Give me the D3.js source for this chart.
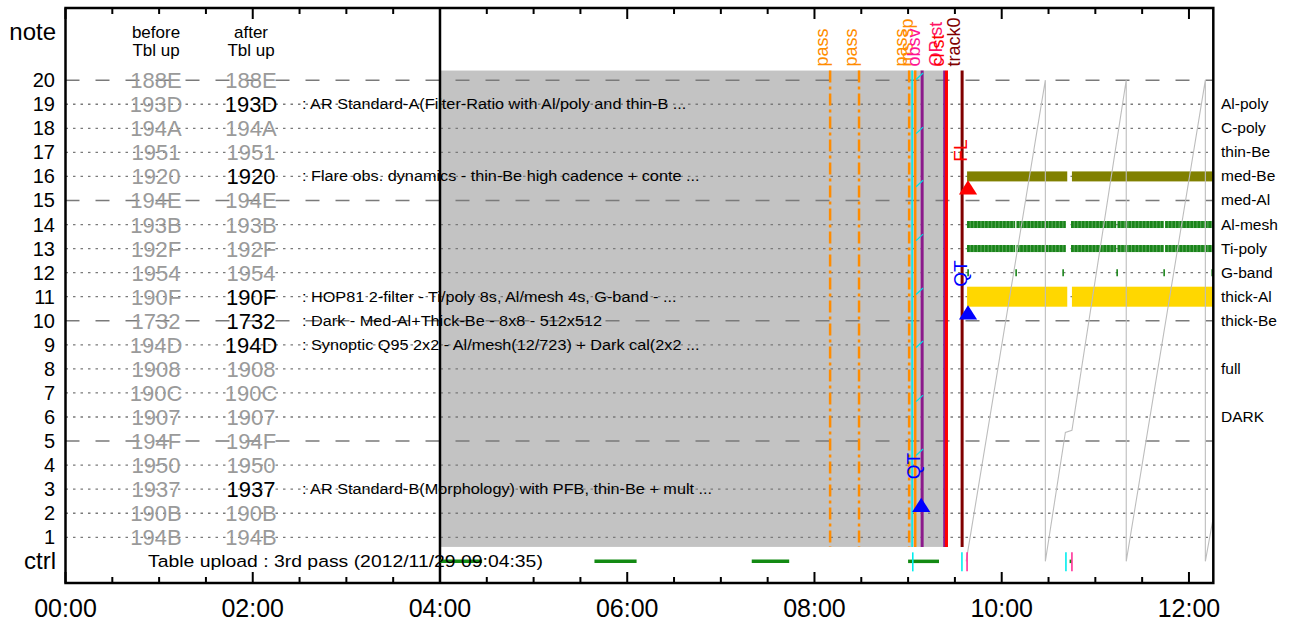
<!DOCTYPE html>
<html><head><meta charset="utf-8">
<script src="https://cdn.jsdelivr.net/npm/d3@7"></script>
<style>body{margin:0;background:#fff}svg{display:block}text{font-family:"Liberation Sans",Arial,Helvetica,sans-serif}</style>
</head><body><svg id="c" width="1296" height="625"></svg>
<script>
// ---------------- data ----------------
const hourTicks = [0,2,4,6,8,10,12];
const hourLabels = ["00:00","02:00","04:00","06:00","08:00","10:00","12:00"];
const minorTicks = [0,0.5,1,1.5,2,2.5,3,3.5,4,4.5,5,5.5,6,6.5,7,7.5,8,8.5,9,9.5,10,10.5,11,11.5,12];
const noteRows = [20,19,18,17,16,15,14,13,12,11,10,9,8,7,6,5,4,3,2,1];
const beforeCodes = ["188E","193D","194A","1951","1920","194E","193B","192F","1954","190F","1732","194D","1908","190C","1907","194F","1950","1937","190B","194B"];
const afterCodes  = ["188E","193D","194A","1951","1920","194E","193B","192F","1954","190F","1732","194D","1908","190C","1907","194F","1950","1937","190B","194B"];
const updatedRows = [19,16,11,10,9,3];
const descRows = [19,16,11,10,9,3];
const descTexts = [
  ": AR Standard-A(Filter-Ratio with Al/poly and thin-B ...",
  ": Flare obs. dynamics - thin-Be high cadence + conte ...",
  ": HOP81 2-filter - Ti/poly 8s, Al/mesh 4s, G-band -  ...",
  ": Dark - Med-Al+Thick-Be - 8x8 - 512x512",
  ": Synoptic Q95 2x2 - Al/mesh(12/723) + Dark cal(2x2  ...",
  ": AR Standard-B(Morphology) with PFB, thin-Be + mult ..."
];
const dashedRows = [20,15,10,5];
const filterRows  = [19,18,17,16,15,14,13,12,11,10,8,6];
const filterNames = ["Al-poly","C-poly","thin-Be","med-Be","med-Al","Al-mesh","Ti-poly","G-band","thick-Al","thick-Be","full","DARK"];

const tableStart = 4.0;            // black boundary (04:00)
const blockTimes = [4.0, 9.374];   // gray table block
const blockRows  = [0.6, 20.4];

const eventTimes  = [8.167, 8.476, 9.011, 9.043, 9.076, 9.150, 9.385, 9.410, 9.577];
const eventLabels = ["pass","pass","pass","","ms sp","obsv","OP st","cl st","track0"];
const eventKinds  = ["pass","pass","pass","sync","upload","obsv","opst","clst","track"];

const cyanMarkTops = [20.3, 18.05, 15.84, 13.6, 11.36, 9.16, 6.91, 4.67, 2.47];

// exposure blocks per filter row
const medBeSegs   = [[9.63,10.70],[10.75,12.30]];
const thickAlSegs = [[9.63,10.70],[10.75,12.30]];
const alMeshSegs  = [[9.63,10.143],[10.159,10.683],[10.741,11.222],[11.238,11.730],[11.746,12.30]];
const tiPolySegs  = [[9.63,10.143],[10.159,10.683],[10.741,11.222],[11.238,11.730],[11.746,12.30]];
const gBandTimes  = [9.641,10.154,10.656,11.233,11.735,12.248];

const markerTimes  = [9.64, 9.64, 9.14];
const markerRows   = [15.2, 10.0, 2.0];
const markerLabels = ["FL","QT","QT"];
const markerKinds  = ["flare","quiet","quiet"];

const sawTimes  = [9.62, 10.466, 10.466, 10.68, 10.75, 11.33, 11.33, 12.175, 12.175, 12.26];
const sawValues = [0,    20,     0,      5.36,  5.45,  20,    0,     20,     0,      1.83];

const ctrlGreen = [[4.0,4.45],[5.65,6.10],[7.33,7.73],[9.00,9.33],[10.725,10.748]];
const ctrlCyan  = [9.05, 9.575, 10.686];
const ctrlPink  = [9.63, 10.75];
const ctrlText  = "Table upload : 3rd pass (2012/11/29 09:04:35)";

// ---------------- styles ----------------
const eventStyle = {
  pass:   {stroke:"#ff8c00", w:2.5, dash:"12,4,3,4", text:"#ff8c00"},
  sync:   {stroke:"#00eeee", w:1.6, dash:null, text:"#00dddd"},
  upload: {stroke:"#ff8c00", w:2.5, dash:null, text:"#ff8c00"},
  obsv:   {stroke:"#8b1a8b", w:3, dash:null, text:"#ff1493"},
  opst:   {stroke:"#8b1a8b", w:2, dash:null, text:"#ff1464"},
  clst:   {stroke:"#ff0000", w:3, dash:null, text:"#ff0000"},
  track:  {stroke:"#800000", w:3, dash:null, text:"#800000"}
};
const markerColor = {flare:"#ff0000", quiet:"#0000ff"};

// ---------------- scales ----------------
const svg = d3.select("#c");
svg.append("rect").attr("width",1296).attr("height",625).attr("fill","#fff");
const x = d3.scaleLinear().domain([0,12.26]).range([65.5,1213.3]);
const y = d3.scaleLinear().domain([-0.9,23]).range([583,8]);
const X0 = x.range()[0], X1 = x.range()[1];

svg.append("defs").append("clipPath").attr("id","plot")
  .append("rect").attr("x",X0).attr("y",8).attr("width",X1-X0).attr("height",575);
const plot = svg.append("g").attr("clip-path","url(#plot)");

// gray block
plot.append("rect")
  .attr("x",x(blockTimes[0])).attr("width",x(blockTimes[1])-x(blockTimes[0]))
  .attr("y",y(blockRows[1])).attr("height",y(blockRows[0])-y(blockRows[1]))
  .attr("fill","#c3c3c3");

// grid rows
plot.selectAll(".grid").data(noteRows).enter().append("line")
  .attr("x1",X0).attr("x2",X1).attr("y1",d=>y(d)).attr("y2",d=>y(d))
  .attr("stroke","#7a7a7a")
  .attr("stroke-width",d=>dashedRows.includes(d)?1.6:1.3)
  .attr("stroke-dasharray",d=>dashedRows.includes(d)?"14,16":"2.5,5");

// headers
const hdr = svg.append("g").attr("font-size",17).attr("text-anchor","middle").attr("fill","#000");
[["before",156],["after",251]].forEach(([t,cx])=>{
  hdr.append("text").attr("x",cx).attr("y",38).text(t);
  hdr.append("text").attr("x",cx).attr("y",56).text("Tbl up");
});

// codes
const codes = svg.append("g").attr("font-size",22).attr("text-anchor","middle");
codes.selectAll(".b").data(noteRows).enter().append("text")
  .attr("x",156).attr("y",d=>y(d)+8).attr("fill","#9a9a9a")
  .text((d,i)=>beforeCodes[i]);
codes.selectAll(".a").data(noteRows).enter().append("text")
  .attr("x",251).attr("y",d=>y(d)+8)
  .attr("fill",d=>updatedRows.includes(d)?"#000":"#9a9a9a")
  .text((d,i)=>afterCodes[i]);

// descriptions (horizontally widened like the reference device font)
svg.append("g").attr("transform","translate(302,0) scale(1.16,1)")
  .attr("font-size",14).selectAll("text").data(descRows).enter().append("text")
  .attr("x",0).attr("y",d=>y(d)+5).attr("fill","#000").text((d,i)=>descTexts[i]);

// boundary line
svg.append("line").attr("x1",x(tableStart)).attr("x2",x(tableStart)).attr("y1",8).attr("y2",583)
  .attr("stroke","#000").attr("stroke-width",2.5);

// event lines
const ev = eventTimes.map((t,i)=>({t, label:eventLabels[i], kind:eventKinds[i]}));
plot.selectAll(".ev").data(ev).enter().append("line")
  .attr("x1",d=>x(d.t)).attr("x2",d=>x(d.t))
  .attr("y1",y(blockRows[1])).attr("y2",y(blockRows[0]))
  .attr("stroke",d=>eventStyle[d.kind].stroke)
  .attr("stroke-width",d=>eventStyle[d.kind].w)
  .attr("stroke-dasharray",d=>eventStyle[d.kind].dash);

// cyan small marks
plot.selectAll(".cm").data(cyanMarkTops).enter().append("line")
  .attr("x1",x(9.085)).attr("x2",x(9.16))
  .attr("y1",d=>y(d-0.27)).attr("y2",d=>y(d))
  .attr("stroke","#00e0e0").attr("stroke-width",1.2);

// filter bars
function bars(segs,row,h,color){
  plot.append("g").selectAll("rect").data(segs).enter().append("rect")
    .attr("x",d=>x(d[0])).attr("width",d=>x(d[1])-x(d[0]))
    .attr("y",y(row)-h/2).attr("height",h).attr("fill",color);
}
bars(medBeSegs,16,10,"#808000");
bars(thickAlSegs,11,20,"#ffd700");
[[alMeshSegs,14],[tiPolySegs,13]].forEach(([segs,row])=>{
  bars(segs,row,7,"#5aa95a");
  plot.append("g").selectAll("line").data(segs).enter().append("line")
    .attr("x1",d=>x(d[0])).attr("x2",d=>x(d[1])).attr("y1",y(row)).attr("y2",y(row))
    .attr("stroke","#1a841a").attr("stroke-width",7).attr("stroke-dasharray","2.6,1");
});
plot.append("g").selectAll("line").data(gBandTimes).enter().append("line")
  .attr("x1",d=>x(d)).attr("x2",d=>x(d)).attr("y1",y(12)-3.5).attr("y2",y(12)+3.5)
  .attr("stroke","#1a841a").attr("stroke-width",1.6);

// sawtooth
plot.append("path")
  .attr("d",d3.line().x(d=>x(d[0])).y(d=>y(d[1]))(sawTimes.map((t,i)=>[t,sawValues[i]])))
  .attr("fill","none").attr("stroke","#bdbdbd").attr("stroke-width",1.1);

// markers
const mk = markerTimes.map((t,i)=>({t,row:markerRows[i],label:markerLabels[i],kind:markerKinds[i]}));
const tri = d3.symbol().type(d3.symbolTriangle).size(130);
svg.selectAll(".mk").data(mk).enter().append("path")
  .attr("d",tri)
  .attr("transform",d=>`translate(${x(d.t)},${y(d.row)-6}) scale(1.05,0.95)`)
  .attr("fill",d=>markerColor[d.kind]);
svg.selectAll(".mkl").data(mk).enter().append("text")
  .attr("transform",d=>`translate(${x(d.t)-1},${y(d.row)-34}) rotate(-90)`)
  .attr("font-size",19).attr("fill",d=>markerColor[d.kind]).text(d=>d.label);

// ctrl row
const yc = y(0);
svg.append("g").selectAll("line").data(ctrlGreen).enter().append("line")
  .attr("x1",d=>x(d[0])).attr("x2",d=>x(d[1])).attr("y1",yc).attr("y2",yc)
  .attr("stroke","#138a13").attr("stroke-width",3.5);
svg.append("g").attr("transform","translate(148,0) scale(1.14,1)")
  .append("text").attr("x",0).attr("y",yc+6).attr("font-size",17).attr("fill","#000").text(ctrlText);
svg.append("g").selectAll("line").data(ctrlCyan).enter().append("line")
  .attr("x1",d=>x(d)).attr("x2",d=>x(d)).attr("y1",yc-9).attr("y2",yc+10)
  .attr("stroke","#00eeee").attr("stroke-width",1.6);
svg.append("g").selectAll("line").data(ctrlPink).enter().append("line")
  .attr("x1",d=>x(d)).attr("x2",d=>x(d)).attr("y1",yc-9).attr("y2",yc+10)
  .attr("stroke","#ff3399").attr("stroke-width",1.6);

// event labels
svg.selectAll(".evl").data(ev.filter(d=>d.label)).enter().append("text")
  .attr("transform",d=>`translate(${x(d.t)-2},${y(blockRows[1])-4}) rotate(-90)`)
  .attr("font-size",18).attr("fill",d=>eventStyle[d.kind].text).text(d=>d.label);

// frame
svg.append("rect").attr("x",X0).attr("y",8).attr("width",X1-X0).attr("height",575)
  .attr("fill","none").attr("stroke","#000").attr("stroke-width",2.5);
const ticks = svg.append("g").attr("stroke","#000").attr("stroke-width",2);
minorTicks.forEach(t=>{
  const L = (t%2===0)?11:6;
  ticks.append("line").attr("x1",x(t)).attr("x2",x(t)).attr("y1",8).attr("y2",8+L);
  ticks.append("line").attr("x1",x(t)).attr("x2",x(t)).attr("y1",583).attr("y2",583-L);
});
svg.append("g").attr("font-size",25).attr("text-anchor","middle").selectAll("text")
  .data(hourTicks).enter().append("text")
  .attr("x",d=>x(d)).attr("y",617).text((d,i)=>hourLabels[i]);

// y labels
svg.append("g").attr("font-size",20).attr("text-anchor","end").selectAll("text")
  .data(noteRows).enter().append("text").attr("x",55).attr("y",d=>y(d)+7).text(d=>d);
svg.append("text").attr("x",56).attr("y",y(22)+8).attr("font-size",24).attr("text-anchor","end").text("note");
svg.append("text").attr("x",56).attr("y",yc+8).attr("font-size",24).attr("text-anchor","end").text("ctrl");

// right filter labels
svg.append("g").attr("font-size",15.5).selectAll("text").data(filterRows).enter().append("text")
  .attr("x",1221).attr("y",d=>y(d)+5).text((d,i)=>filterNames[i]);
</script></body></html>
